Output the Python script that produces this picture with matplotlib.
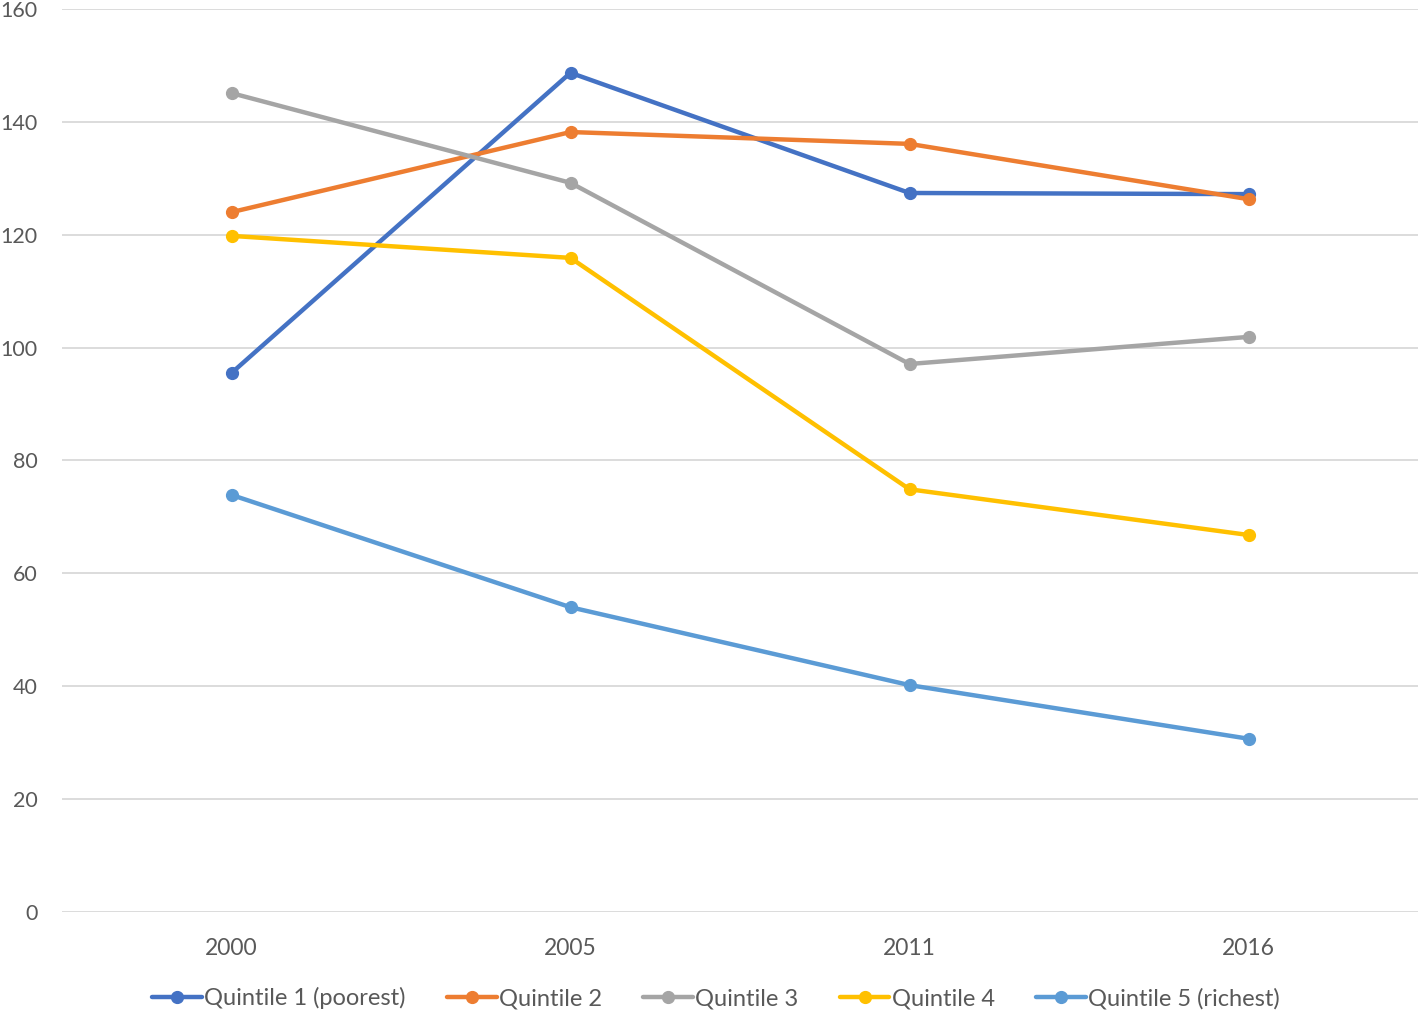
import matplotlib
matplotlib.use("Agg")
import matplotlib.pyplot as plt

years = ["2000", "2005", "2011", "2016"]
series_names = ["Quintile 1 (poorest)", "Quintile 2", "Quintile 3", "Quintile 4", "Quintile 5 (richest)"]
q1 = [95.5, 148.7, 127.4, 127.2]
q2 = [124.0, 138.2, 136.1, 126.3]
q3 = [145.1, 129.2, 97.1, 101.9]
q4 = [119.8, 115.9, 74.9, 66.8]
q5 = [73.9, 54.0, 40.2, 30.7]
colors = ["#4472C4", "#ED7D31", "#A5A5A5", "#FFC000", "#5B9BD5"]
y_ticks = [0, 20, 40, 60, 80, 100, 120, 140, 160]

plt.rcParams['font.family'] = ['Lato', 'DejaVu Sans']

fig = plt.figure(figsize=(14.18, 10.11), dpi=100)
W, H = 1418, 1011
ax = fig.add_axes([62 / W, 1 - 912 / H, (1418 - 62) / W, (912 - 9) / H])

x = list(range(len(years)))
for name, vals, c in zip(series_names, [q1, q2, q3, q4, q5], colors):
    ax.plot(x, vals, color=c, lw=3.2, marker='o', markersize=8.5, label=name,
            solid_capstyle='round', zorder=3)

ax.set_xlim(-0.5, len(years) - 0.5)
ax.set_ylim(0, 160)
ax.set_yticks(y_ticks)
ax.set_xticks(x)
ax.set_xticklabels(years)
ax.grid(axis='y', color='#D9D9D9', lw=1.3, zorder=0)
ax.set_axisbelow(True)
for s in ax.spines.values():
    s.set_visible(False)
ax.tick_params(axis='both', length=0, colors='#595959')
ax.tick_params(axis='y', pad=17.5, labelsize=15.5)
ax.tick_params(axis='x', pad=18.5, labelsize=16.5)

leg = fig.legend(loc='center', bbox_to_anchor=(716 / W, 1 - 998 / H), ncol=5,
                 frameon=False, fontsize=17, handlelength=2.1, handletextpad=0.1,
                 columnspacing=1.75, labelcolor='#595959')

fig.savefig("out.png", dpi=100)
